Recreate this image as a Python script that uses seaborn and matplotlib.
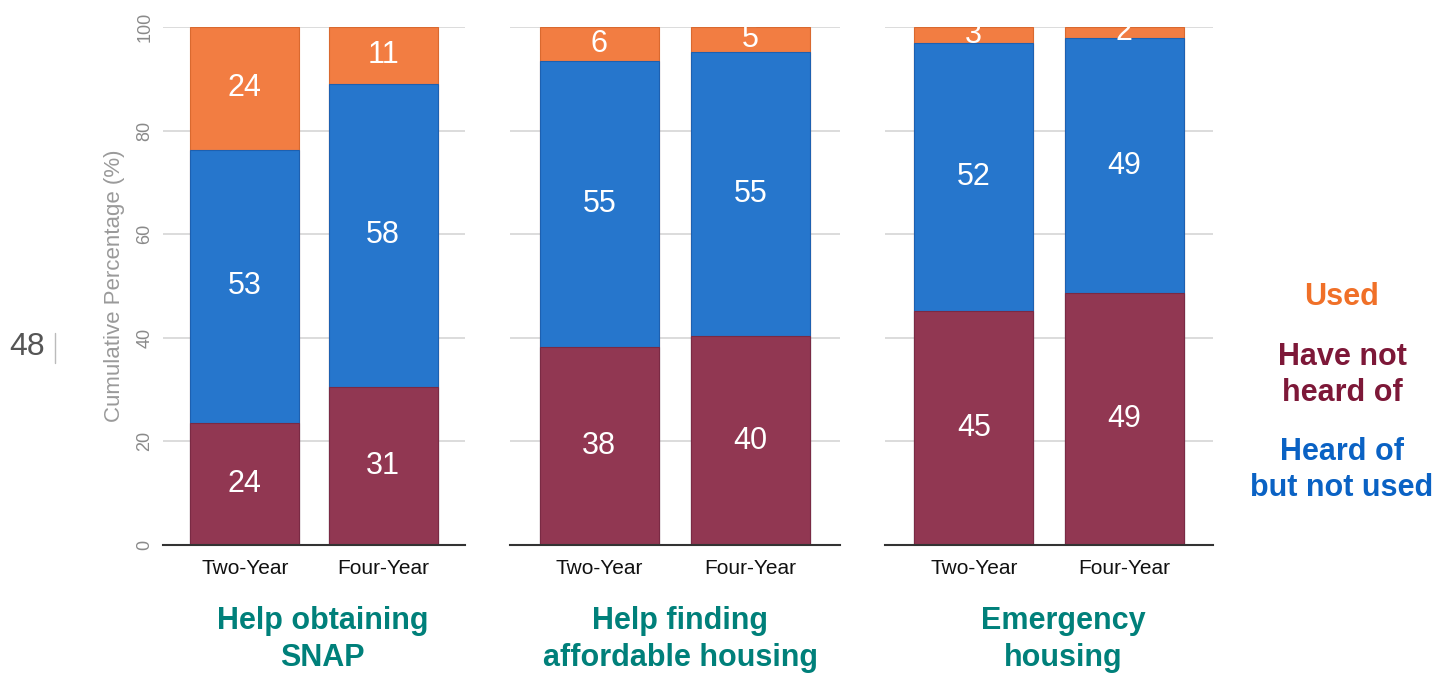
import numpy as np
import pandas as pd
import seaborn as sns
import matplotlib.pyplot as plt

# data (percent of students)
services = ["Help obtaining\nSNAP", "Help finding\naffordable housing", "Emergency\nhousing"]
institutions = ["Two-Year", "Four-Year"]
not_heard = [23.6, 30.5, 38.2, 40.3, 45.2, 48.6]
heard_not_used = [52.7, 58.5, 55.2, 54.9, 51.7, 49.3]
used = [23.7, 11.0, 6.6, 4.8, 3.1, 2.1]
not_heard_labels = [24, 31, 38, 40, 45, 49]
heard_labels = [53, 58, 55, 55, 52, 49]
used_labels = [24, 11, 6, 5, 3, 2]

df = pd.DataFrame({
    "service": np.repeat(services, 2),
    "institution": institutions * 3,
    "not_heard": not_heard,
    "heard": heard_not_used,
    "used": used,
})
df["top_heard"] = df["not_heard"] + df["heard"]
df["top_used"] = df["top_heard"] + df["used"]

c_used = "#F27D42"
c_heard = "#2676CC"
c_not = "#913752"
teal = "#00807A"

sns.set_theme(style="white")
plt.rcParams["font.family"] = ["Liberation Sans", "DejaVu Sans"]

fig = plt.figure(figsize=(14.53, 6.73), dpi=100)
boxes = [(0.1122, 0.1902, 0.2078, 0.7697),
         (0.3510, 0.1902, 0.2271, 0.7697),
         (0.6091, 0.1902, 0.2257, 0.7697)]
title_x = [0.222, 0.468, 0.732]

for i, svc in enumerate(services):
    ax = fig.add_axes(boxes[i])
    sub = df[df["service"] == svc]
    # stacked bars: draw cumulative tops, largest first
    sns.barplot(data=sub, x="institution", y="top_used", order=institutions,
                color=c_used, saturation=1, width=0.79, ax=ax,
                edgecolor="#d9692f", linewidth=0.8)
    sns.barplot(data=sub, x="institution", y="top_heard", order=institutions,
                color=c_heard, saturation=1, width=0.79, ax=ax,
                edgecolor="#1d60b0", linewidth=0.8)
    sns.barplot(data=sub, x="institution", y="not_heard", order=institutions,
                color=c_not, saturation=1, width=0.79, ax=ax,
                edgecolor="#7a2a44", linewidth=0.8)

    # value labels in the middle of each segment
    for j in range(2):
        k = 2 * i + j
        r = sub.iloc[j]
        for lab, lo, hi in [(not_heard_labels[k], 0, r["not_heard"]),
                            (heard_labels[k], r["not_heard"], r["top_heard"]),
                            (used_labels[k], r["top_heard"], r["top_used"])]:
            ax.text(j, (lo + hi) / 2, str(lab), color="white", fontsize=22,
                    ha="center", va="center")

    ax.set_xlim(-0.59, 1.59)
    ax.set_ylim(0, 100)
    ax.set_yticks([0, 20, 40, 60, 80, 100])
    ax.yaxis.grid(True, color="#d6d6d6", lw=1.2)
    ax.set_axisbelow(True)
    for s in ["left", "right", "top"]:
        ax.spines[s].set_visible(False)
    ax.spines["bottom"].set_color("#333333")
    ax.spines["bottom"].set_linewidth(1.5)
    ax.tick_params(axis="x", length=0, labelsize=15, labelcolor="#111111", pad=10)
    ax.set_xlabel("")
    if i == 0:
        ax.tick_params(axis="y", length=0, labelsize=13, labelcolor="#8a8a8a",
                       labelrotation=90, pad=7)
        for t in ax.get_yticklabels():
            t.set_va("center")
        ax.set_ylabel("Cumulative Percentage (%)", color="#9a9a9a", fontsize=16,
                      labelpad=8)
    else:
        ax.set_yticklabels([])
        ax.tick_params(axis="y", length=0)
        ax.set_ylabel("")

    fig.text(title_x[i], 0.050, svc, ha="center", va="center", color=teal,
             fontsize=22, fontweight="bold", linespacing=1.3)

# legend as coloured text
fig.text(0.9236, 1 - 297 / 673, "Used", ha="center", va="center",
         color="#F07028", fontsize=22, fontweight="bold")
fig.text(0.9236, 1 - 375 / 673, "Have not\nheard of", ha="center", va="center",
         color="#7D1838", fontsize=22, fontweight="bold", linespacing=1.3)
fig.text(0.9236, 1 - 470 / 673, "Heard of\nbut not used", ha="center", va="center",
         color="#0A62C4", fontsize=22, fontweight="bold", linespacing=1.3)

# slide number
fig.text(0.0186, 1 - 347 / 673, "48", ha="center", va="center",
         color="#555555", fontsize=23)
fig.add_artist(plt.Line2D([0.0379, 0.0379], [1 - 333 / 673, 1 - 363 / 673],
                          color="#bbbbbb", lw=1))

fig.savefig("out.png", dpi=100)
